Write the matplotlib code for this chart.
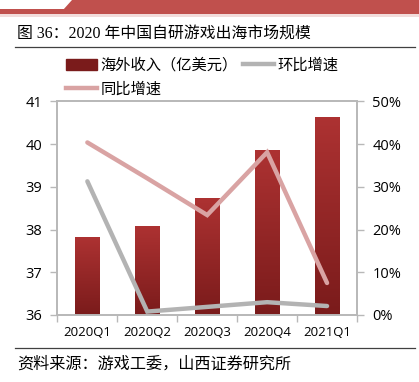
import numpy as np
import matplotlib.pyplot as plt
from matplotlib.patches import Rectangle, Polygon
from matplotlib.lines import Line2D
from matplotlib.colors import LinearSegmentedColormap
from matplotlib.ticker import FuncFormatter

plt.rcParams['font.family'] = ['Liberation Sans', 'Noto Sans CJK SC']

# data
quarters = ['2020Q1', '2020Q2', '2020Q3', '2020Q4', '2021Q1']
revenue = [37.82, 38.08, 38.73, 39.86, 40.63]   # 海外收入（亿美元）
qoq = [31.3, 0.8, 1.9, 3.0, 2.1]                # 环比增速 %
yoy = [40.4, 32.0, 23.4, 38.1, 7.5]             # 同比增速 %

bar_top = '#ad3232'
bar_bottom = '#7a1b1b'
gray = '#b3b3b3'
pink = '#d9a3a3'
axis_gray = '#b8b8b8'

fig = plt.figure(figsize=(4.19, 3.82), dpi=100)

# header band
fig.add_artist(Polygon([[0.172, 1.0], [1.0, 1.0], [1.0, 0.975], [0.150, 0.975]],
                       closed=True, transform=fig.transFigure, color='#c0504d', lw=0))
fig.add_artist(Rectangle((0, 0.962), 1, 0.015, transform=fig.transFigure, color='#c0504d', lw=0))
fig.add_artist(Rectangle((0, 0.955), 1, 0.008, transform=fig.transFigure, color='#f2dcdb', lw=0))

fig.text(0.040, 0.912, '图 36：2020 年中国自研游戏出海市场规模', fontsize=11.4,
         family=['Liberation Serif', 'Noto Sans CJK SC'], va='center', ha='left')
fig.add_artist(Line2D([0.036, 0.99], [0.877, 0.877], transform=fig.transFigure, color='#404040', lw=0.9))

fig.add_artist(Line2D([0.036, 0.99], [0.089, 0.089], transform=fig.transFigure, color='#404040', lw=0.9))
fig.text(0.040, 0.047, '资料来源：游戏工委，山西证券研究所', fontsize=11.6,
         family=['Noto Sans CJK SC'], va='center', ha='left')

ax = fig.add_axes([0.137, 0.1754, 0.715, 0.559])
ax2 = ax.twinx()

x = np.arange(len(quarters))
width = 0.41
cmap = LinearSegmentedColormap.from_list('bar', [bar_bottom, bar_top])
grad = np.linspace(0, 1, 256).reshape(-1, 1)
bars = ax.bar(x, revenue, width, bottom=0, color='none', lw=0)
for b in bars:
    x0, w, h = b.get_x(), b.get_width(), b.get_height()
    im = ax.imshow(grad, cmap=cmap, origin='lower', aspect='auto',
                   extent=[x0, x0 + w, 36, h], zorder=2)
    im.set_clip_path(b)

ax.set_xlim(-0.5, len(quarters) - 0.5)
ax.set_ylim(36, 41)
ax.set_yticks(range(36, 42))
ax.set_xticks(x)
ax.set_xticklabels(quarters, fontsize=9.5, family=['Open Sans', 'Noto Sans CJK SC'])
ax.set_xticks(np.arange(-0.5, len(quarters)), minor=True)
ax.tick_params(axis='x', which='major', length=0, pad=8)
ax.tick_params(axis='x', which='minor', length=5, color=axis_gray, width=1)
ax.tick_params(axis='y', length=5, color=axis_gray, width=1, labelsize=10.5, pad=6)

ax2.plot(x, qoq, color=gray, lw=3.2, solid_capstyle='round', solid_joinstyle='miter')
ax2.plot(x, yoy, color=pink, lw=3.2, solid_capstyle='round', solid_joinstyle='miter')
ax2.set_ylim(0, 50)
ax2.set_yticks(range(0, 51, 10))
ax2.yaxis.set_major_formatter(FuncFormatter(lambda v, p: f'{v:.0f}%'))
ax2.tick_params(axis='y', length=5, color=axis_gray, width=1, labelsize=10.5, pad=6)

for a in (ax, ax2):
    for s in a.spines.values():
        s.set_color(axis_gray)
        s.set_linewidth(1.2)
    for lab in a.get_yticklabels():
        lab.set_family(['Open Sans', 'Noto Sans CJK SC'])

handles = [Rectangle((0, 0), 1, 1, color=bar_bottom),
           Line2D([], [], color=pink, lw=3.2),
           Line2D([], [], color=gray, lw=3.2)]
labels = ['海外收入（亿美元）', '同比增速', '环比增速']
fig.legend(handles, labels, ncol=2, loc='upper left', bbox_to_anchor=(0.143, 0.868),
           frameon=False, handlelength=2.0, handletextpad=0.25,
           columnspacing=0.35, labelspacing=0.45, borderaxespad=0,
           prop={'family': ['Noto Sans CJK SC'], 'size': 11})

fig.savefig('out.png', dpi=100)
